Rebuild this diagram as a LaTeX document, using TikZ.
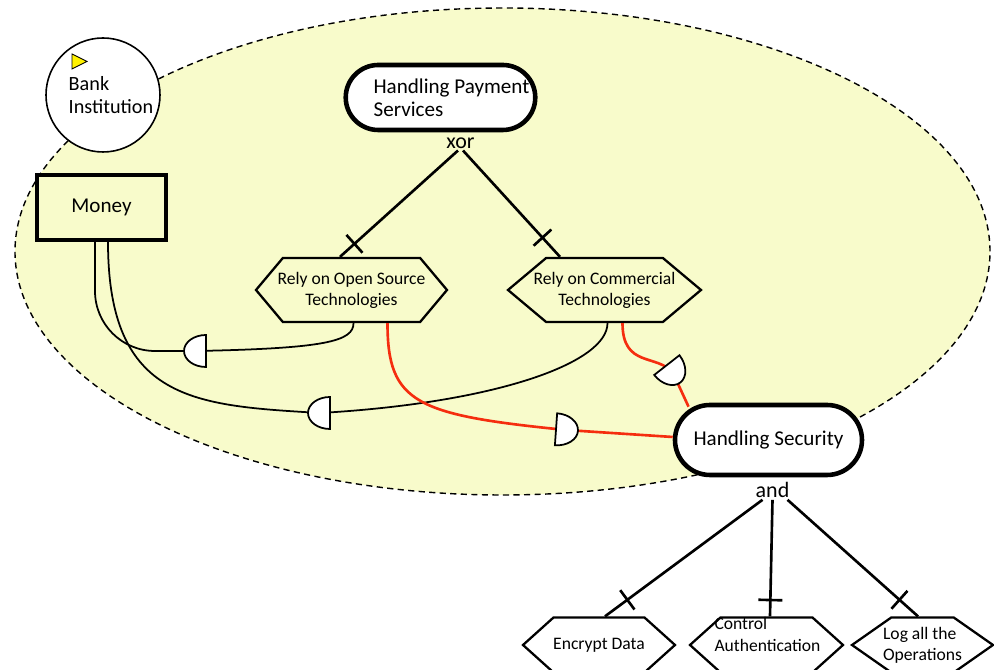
\documentclass[tikz,border=0pt]{standalone}
\usepackage{fontspec}
\setmainfont{Carlito}
\usetikzlibrary{shapes.symbols,decorations.markings}
\definecolor{areayellow}{RGB}{248,251,203}
\definecolor{linkred}{RGB}{245,45,15}
\tikzset{
  goal/.style={draw,line width=2.6pt,rounded corners=0.65cm,fill=white,minimum width=3.7cm,minimum height=1.3cm,align=left,font=\fontsize{12}{13}\selectfont},
  task/.style={signal,signal to=east and west,signal pointer angle=#1,draw,line width=1.3pt,minimum height=1.28cm,align=center,inner xsep=-0.35cm,font=\fontsize{10}{12}\selectfont},
  res/.style={draw,line width=2pt,fill=areayellow,minimum width=2.58cm,minimum height=1.3cm,font=\fontsize{12}{14}\selectfont},
  oplabel/.style={inner sep=1pt,font=\fontsize{12.5}{14}\selectfont},
  decomp/.style={line width=1.5pt},
  tickbar/.style={postaction={decorate,decoration={markings,mark=at position #1 with {\draw[line width=1.5pt] (0,-0.24) -- (0,0.24);}}}},
  tickbar/.default=.86,
  dep/.style={line width=1pt},
  redlink/.style={draw=linkred,line width=1.5pt},
  depd/.pic={\draw[line width=1pt,fill=white] (-0.2,0.32) -- (-0.2,-0.32) arc[start angle=-90,end angle=90,x radius=0.44,y radius=0.32] -- cycle;}
}
\begin{document}
\begin{tikzpicture}
\useasboundingbox (0,0) rectangle (19.88,13.4);
\clip (0,0) rectangle (19.88,13.4);
\draw[dash pattern=on 3.5pt off 2.5pt,line width=0.8pt,fill=areayellow] (10.05,8.37) ellipse [x radius=9.75,y radius=4.87];
\node[circle,draw,line width=0.9pt,fill=white,minimum size=2.28cm,inner sep=1pt,align=left,font=\fontsize{11.5}{13}\selectfont] (bank) at (2.06,11.5) {\hspace*{0.32cm}Bank\\\hspace*{0.32cm}Institution};
\draw[fill=yellow,line width=0.5pt] ([shift={(-0.62,0.82)}]bank.center) -- ++(0,-0.3) -- ++(0.3,0.15) -- cycle;
\node[res] (money) at (2.03,9.25) {Money};
\node[goal] (hps) at (8.81,11.45) {\hspace*{0.44cm}Handling Payment\\\hspace*{0.44cm}Services};
\node[oplabel] (xor) at (9.21,10.54) {xor};
\node[task=100,minimum width=3.82cm] (os) at (7.03,7.6) {Rely on Open Source\\Technologies};
\node[task=80,minimum width=3.86cm] (com) at (12.09,7.6) {Rely on Commercial\\Technologies};
\node[goal,rounded corners=0.7cm,minimum width=3.74cm,minimum height=1.4cm] (hs) at (15.37,4.6) {Handling Security};
\node[oplabel] (and) at (15.45,3.6) {and};
\node[task=84,fill=white,minimum width=3.04cm,minimum height=1.1cm] (enc) at (11.98,0.5) {Encrypt Data};
\node[task=84,fill=white,minimum width=3.06cm,minimum height=1.1cm] (ctl) at (15.33,0.5) {};
\node[align=left,inner sep=0pt,font=\fontsize{10}{12}\selectfont] (ctltext) at (15.35,0.71) {Control\\Authentication};
\node[task=70,fill=white,minimum width=2.82cm,minimum height=1.1cm,align=left] (log) at (18.45,0.5) {Log all the\\Operations};
\draw[decomp,tickbar=.88] ([xshift=-0.05cm]xor.south) -- ([xshift=-0.23cm]os.north);
\draw[decomp,tickbar=.82] ([xshift=0.05cm]xor.south) -- ([xshift=-0.89cm]com.north);
\draw[decomp,tickbar] ([xshift=-0.2cm]and.south) -- ([xshift=0.12cm]enc.north);
\draw[decomp,tickbar] (and.south) -- ([xshift=0.07cm]ctl.north);
\draw[decomp,tickbar] ([xshift=0.3cm]and.south) -- ([xshift=-0.09cm]log.north);
\coordinate (d1) at (3.92,6.38);
\coordinate (d2) at (6.4,5.14);
\coordinate (d3) at (11.32,4.8);
\coordinate (d4) at (13.46,5.94);
\draw[dep,rounded corners=1.2cm] ([xshift=-0.13cm]money.south) |- (d1);
\draw[dep] (d1) .. controls +(2.6,0.05) and +(0,-0.36) .. ([xshift=0.04cm]os.south);
\draw[dep] ([xshift=0.13cm]money.south) .. controls +(0,-3.2) and +(-2.5,0.15) .. (d2) .. controls +(3.5,0.2) and +(0,-0.8) .. ([xshift=0.06cm]com.south);
\draw[redlink] ([xshift=0.72cm]os.south) .. controls +(0,-1.6) and +(-3,0.3) .. (d3) -- ([yshift=0.06cm]hs.west);
\draw[redlink] ([xshift=0.36cm]com.south) .. controls +(0,-0.9) and +(-0.31,0.39) .. (d4) -- ([yshift=-0.08cm]hs.155);
\pic[rotate=180] at (d1) {depd};
\pic[rotate=180] at (d2) {depd};
\pic[rotate=-4] at (d3) {depd};
\pic[rotate=-52] at (d4) {depd};
\end{tikzpicture}
\end{document}
